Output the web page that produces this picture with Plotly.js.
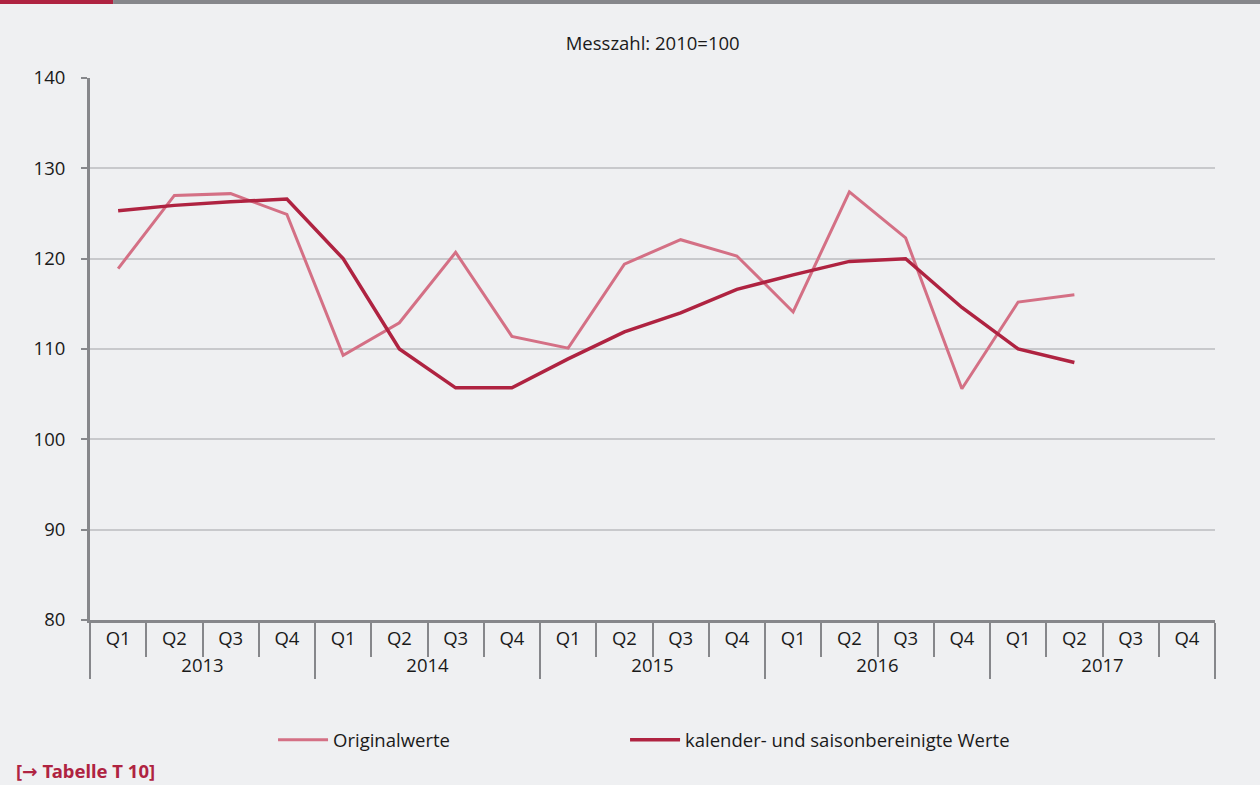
<!DOCTYPE html>
<html>
<head>
<meta charset="utf-8">
<script src="https://cdn.plot.ly/plotly-3.0.1.min.js"></script>
<style>
	html, body { margin: 0; padding: 0; background: #eff0f2; }
	#plot { width: 1260px; height: 785px; }
</style>
</head>
<body>
<div id="plot"></div>
<script>
const YEARS = ["2013", "2014", "2015", "2016", "2017"];
const QUARTERS = ["Q1", "Q2", "Q3", "Q4"];

// Index values, 2010 = 100 (2017 Q3/Q4 not yet available)
const originalwerte = [
	118.9, 127.0, 127.2, 124.9,
	109.3, 112.9, 120.7, 111.4,
	110.1, 119.4, 122.1, 120.3,
	114.1, 127.4, 122.3, 105.6,
	115.2, 116.0, null, null,
];
const bereinigt = [
	125.3, 125.9, 126.3, 126.6,
	120.0, 110.0, 105.7, 105.7,
	108.9, 111.9, 114.0, 116.6,
	118.2, 119.7, 120.0, 114.6,
	110.0, 108.5, null, null,
];

const DARK_RED = "#af2341";
const LIGHT_RED = "#d47085";
const AXIS_GREY = "#86878b";
const FONT_SIZE = 18.5;

// Two-level category axis: year / quarter
const xYears = [];
const xQuarters = [];
YEARS.forEach((year) => {
	QUARTERS.forEach((q) => {
		xYears.push(year);
		xQuarters.push(q);
	});
});

const traces = [
	{
		x: [xYears, xQuarters],
		y: originalwerte,
		type: "scatter",
		mode: "lines",
		name: "Originalwerte",
		line: { color: LIGHT_RED, width: 3 },
		connectgaps: false,
		legend: "legend",
	},
	{
		x: [xYears, xQuarters],
		y: bereinigt,
		type: "scatter",
		mode: "lines",
		name: "kalender- und saisonbereinigte Werte",
		line: { color: DARK_RED, width: 3.5 },
		connectgaps: false,
		legend: "legend2",
	},
];

// one legend box per series so each entry sits where the original puts it
function legendBox(xPos) {
	return {
		orientation: "h",
		x: xPos,
		xanchor: "left",
		y: -0.222,
		yanchor: "middle",
		itemwidth: 50,
		font: { size: FONT_SIZE },
		bgcolor: "rgba(0,0,0,0)",
	};
}

const layout = {
	width: 1260,
	height: 785,
	paper_bgcolor: "#eff0f2",
	plot_bgcolor: "#eff0f2",
	font: { family: "Open Sans, sans-serif", size: FONT_SIZE, color: "#1a1a1a" },
	margin: { l: 90, r: 45, t: 78, b: 165 },
	title: {
		text: "Messzahl: 2010=100",
		x: 0.518,
		xanchor: "center",
		y: 0.945,
		yanchor: "middle",
		font: { size: FONT_SIZE, color: "#1a1a1a" },
	},
	xaxis: {
		type: "multicategory",
		range: [-0.5, 19.5],
		showgrid: false,
		showline: true,
		linecolor: AXIS_GREY,
		linewidth: 3,
		ticks: "outside",
		tickson: "boundaries",
		ticklen: 34,
		tickwidth: 2,
		tickcolor: AXIS_GREY,
		showdividers: true,
		dividercolor: AXIS_GREY,
		dividerwidth: 2,
		tickfont: { size: FONT_SIZE },
		zeroline: false,
	},
	yaxis: {
		range: [80, 140],
		dtick: 10,
		showgrid: true,
		gridcolor: "#c8c9cc",
		gridwidth: 2,
		showline: true,
		linecolor: AXIS_GREY,
		linewidth: 3,
		ticks: "outside",
		ticklen: 6,
		tickwidth: 2,
		tickcolor: AXIS_GREY,
		ticklabelstandoff: 12,
		zeroline: false,
		tickfont: { size: FONT_SIZE },
	},
	showlegend: true,
	legend: legendBox(0.1627),
	legend2: legendBox(0.4756),
	shapes: [
		// header bar: red tab and grey rule
		{
			type: "rect", xref: "paper", yref: "paper",
			x0: -0.08, x1: 0.0205, y0: 1.1365, y1: 1.1439,
			fillcolor: DARK_RED, line: { width: 0 },
		},
		{
			type: "rect", xref: "paper", yref: "paper",
			x0: 0.0205, x1: 1.04, y0: 1.1365, y1: 1.1439,
			fillcolor: AXIS_GREY, line: { width: 0 },
		},
	],
	annotations: [
		{
			text: "<b>[→ Tabelle T 10]</b>",
			xref: "paper", yref: "paper",
			x: -0.068, y: -0.277,
			xanchor: "left", yanchor: "middle",
			showarrow: false,
			font: { family: "Noto Sans, DejaVu Sans, sans-serif", size: 18.5, color: DARK_RED },
		},
	],
};

const config = { responsive: false, displayModeBar: false, staticPlot: true };

Plotly.newPlot("plot", traces, layout, config);
</script>
</body>
</html>
